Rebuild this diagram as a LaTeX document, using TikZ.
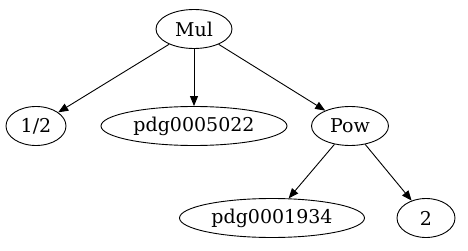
\documentclass[tikz,border=0pt]{standalone}
\usepackage{fontspec}
\setmainfont{DejaVu Serif}
\usetikzlibrary{shapes.geometric,arrows.meta}
\begin{document}
\begin{tikzpicture}[x=1pt,y=-1pt,>={Triangle[length=10pt,width=8pt]},
  every node/.style={ellipse,draw,inner sep=0pt,minimum height=39pt,
    line width=0.9pt,font=\fontsize{19}{22}\selectfont}]
  \useasboundingbox (0,0) rectangle (468,251);
  \node[minimum width=76pt] (mul) at (194,29) {Mul};
  \node[minimum width=60pt] (half) at (36,126) {1/2};
  \node[minimum width=186pt] (pa) at (194,126) {pdg0005022};
  \node[minimum width=77pt] (pow) at (350,126) {Pow};
  \node[minimum width=185pt] (pb) at (272,218) {pdg0001934};
  \node[minimum width=58pt] (two) at (426,218) {2};
  \draw[->,line width=0.9pt] (mul)--(half);
  \draw[->,line width=0.9pt] (mul)--(pa);
  \draw[->,line width=0.9pt] (mul)--(pow);
  \draw[->,line width=0.9pt] (pow)--(pb);
  \draw[->,line width=0.9pt] (pow)--(two);
\end{tikzpicture}
\end{document}
